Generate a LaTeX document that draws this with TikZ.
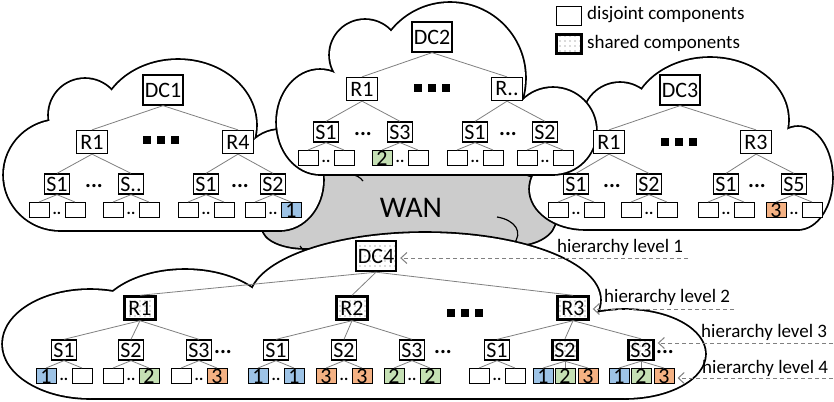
\documentclass[tikz,border=0pt]{standalone}
\usepackage{fontspec}
\setmainfont{Carlito}
\usepackage{tikz}
\usetikzlibrary{arrows.meta,patterns.meta}
\definecolor{cblue}{RGB}{157,195,230}
\definecolor{cgreen}{RGB}{197,224,180}
\definecolor{corange}{RGB}{244,177,131}
\newcommand{\squaredots}{\rule{8pt}{8pt}\hspace{6pt}\rule{8pt}{8pt}\hspace{6pt}\rule{8pt}{8pt}}

\begin{document}
\begin{tikzpicture}[x=1pt,y=-1pt]
    \tikzstyle{box} = [draw,line width=1.3pt,fill=white,inner sep=0pt,font=\fontsize{22}{22}\selectfont]
    \tikzstyle{dcbox} = [box,minimum width=40pt,minimum height=30pt]
    \tikzstyle{rbox} = [box,minimum width=31pt,minimum height=23pt]
    \tikzstyle{sbox} = [box,minimum width=25pt,minimum height=20pt]
    \tikzstyle{shared} = [line width=2.4pt,preaction={fill=white},pattern={Dots[distance=5pt,radius=0.7pt]},pattern color=black!60]
    \tikzstyle{num} = [inner sep=0pt,font=\fontsize{22}{22}\selectfont]
    \tikzstyle{leaf} = [draw,line width=1pt,fill=white,minimum width=20pt,minimum height=15pt,inner sep=0pt]
    \tikzstyle{lw} = [leaf]
    \tikzstyle{lb} = [leaf,fill=cblue,label={[num]center:1}]
    \tikzstyle{lg} = [leaf,fill=cgreen,label={[num]center:2}]
    \tikzstyle{lo} = [leaf,fill=corange,label={[num]center:3}]
    \tikzstyle{link} = [gray,line width=0.8pt]
    \tikzstyle{cloudline} = [line width=3.6pt]
    \tikzstyle{ell} = [anchor=base,inner sep=0pt,font=\fontsize{22}{22}\selectfont\bfseries]
    \tikzstyle{twodots} = [anchor=base,inner sep=0pt,font=\fontsize{16}{16}\selectfont\bfseries]
    \tikzstyle{txt} = [inner sep=0pt,font=\fontsize{19}{19}\selectfont]
    \tikzstyle{levelarrow} = [gray,line width=1pt,dash pattern=on 4pt off 3pt,shorten >=3pt,-{Straight Barb[length=6pt,width=11pt]}]
    \useasboundingbox (0,0) rectangle (834,401);
    % WAN
    \def\shapes{412/205/150/45,305/228/42/20,515/220/40/25}
    \foreach \cx/\cy/\rx/\ry in \shapes
      \draw[cloudline] (\cx,\cy) ellipse ({\rx*1pt} and {\ry*1pt});
    \foreach \cx/\cy/\rx/\ry in \shapes
      \fill[gray!40] (\cx,\cy) ellipse ({\rx*1pt} and {\ry*1pt});
    \draw[line width=1.2pt] (497,217) .. controls (515,220) and (524,232) .. (513,245);
    \draw[line width=1.2pt] (350,174) .. controls (356,175) and (360,177) .. (363,181);
    \draw[line width=1.2pt] (300,246) -- (304,251);
    \node[font=\fontsize{30}{30}\selectfont] (wan) at (411,208) {WAN};
    % cloud of DC1
    \def\shapes{60/175/56/55,85/115/36/36,178/125/78/65,280/180/43/50}
    \foreach \cx/\cy/\rx/\ry in \shapes
      \draw[cloudline] (\cx,\cy) ellipse ({\rx*1pt} and {\ry*1pt});
    \draw[cloudline] (60,150) rectangle (280,230);
    \foreach \cx/\cy/\rx/\ry in \shapes
      \fill[white] (\cx,\cy) ellipse ({\rx*1pt} and {\ry*1pt});
    \fill[white] (60,150) rectangle (280,230);
    % cloud of DC3
    \def\shapes{585/189/55/40,620/120/37/37,710/120/78/62,798/178/34/51}
    \foreach \cx/\cy/\rx/\ry in \shapes
      \draw[cloudline] (\cx,\cy) ellipse ({\rx*1pt} and {\ry*1pt});
    \draw[cloudline] (585,150) rectangle (798,229);
    \foreach \cx/\cy/\rx/\ry in \shapes
      \fill[white] (\cx,\cy) ellipse ({\rx*1pt} and {\ry*1pt});
    \fill[white] (585,150) rectangle (798,229);
    % cloud of DC2
    \def\shapes{320/122/43/52,365/55/35/35,450/78/75/75,553/131/43/43}
    \foreach \cx/\cy/\rx/\ry in \shapes
      \draw[cloudline] (\cx,\cy) ellipse ({\rx*1pt} and {\ry*1pt});
    \draw[cloudline] (320,100) rectangle (553,174);
    \foreach \cx/\cy/\rx/\ry in \shapes
      \fill[white] (\cx,\cy) ellipse ({\rx*1pt} and {\ry*1pt});
    \fill[white] (320,100) rectangle (553,174);
    % cloud of DC4
    \def\shapes{90/344/87/54,185/325/90/55,425/300/175/67,625/354/80/44}
    \foreach \cx/\cy/\rx/\ry in \shapes
      \draw[cloudline] (\cx,\cy) ellipse ({\rx*1pt} and {\ry*1pt});
    \draw[cloudline] (90,320) rectangle (625,398);
    \foreach \cx/\cy/\rx/\ry in \shapes
      \fill[white] (\cx,\cy) ellipse ({\rx*1pt} and {\ry*1pt});
    \fill[white] (90,320) rectangle (625,398);

    % data centers and rows
    \node[dcbox] (dc1) at (163,90) {DC1};
    \node[dcbox] (dc2) at (432,37) {DC2};
    \node[dcbox] (dc3) at (680,90) {DC3};
    \node[dcbox,shared] (dc4) at (376,256) {DC4};
    \node[rbox] (ar1) at (92,142) {R1};
    \node[rbox] (ar4) at (238,142) {R4};
    \node[rbox] (br1) at (362,89) {R1};
    \node[rbox] (brx) at (507,89) {R..};
    \node[rbox] (cr1) at (609,142) {R1};
    \node[rbox] (cr3) at (756,142) {R3};
    \node[rbox,shared] (dr1) at (140,308) {R1};
    \node[rbox,shared] (dr2) at (352,308) {R2};
    \node[rbox,shared] (dr3) at (573,308) {R3};
    \node[inner sep=0pt] (aq) at (161,140) {\squaredots};
    \node[inner sep=0pt] (bq) at (432,88) {\squaredots};
    \node[inner sep=0pt] (cq) at (679,142) {\squaredots};
    \node[inner sep=0pt] (dq) at (465,313) {\squaredots};
    \foreach \a/\b in {dc1/ar1,dc1/ar4,dc2/br1,dc2/brx,dc3/cr1,dc3/cr3,dc4/dr1,dc4/dr2,dc4/dr3}
      \draw[link] (\a.south) -- (\b.north);

    % switches with two servers
    \foreach \n/\x/\y/\t/\p/\la/\lb in {aa/57/184/S1/ar1/lw/lw,ab/131/184/S../ar1/lw/lw,
      ac/206/184/S1/ar4/lw/lw,ad/273/184/S2/ar4/lw/lb,
      ba/326/132/S1/br1/lw/lw,bb/400/132/S3/br1/lg/lw,bc/475/132/S1/brx/lw/lw,bd/545/132/S2/brx/lw/lw,
      ca/576/184/S1/cr1/lw/lw,cb/649/184/S2/cr1/lw/lw,cc/726/184/S1/cr3/lw/lw,cd/794/184/S5/cr3/lo/lw,
      da/64/350/S1/dr1/lb/lw,db/131/350/S2/dr1/lw/lg,dc/199/350/S3/dr1/lw/lo,
      dd/276/350/S1/dr2/lb/lb,de/344/350/S2/dr2/lo/lo,df/412/350/S3/dr2/lg/lg,dg/497/350/S1/dr3/lw/lw}
    {
      \node[sbox] (\n) at (\x,\y) {\t};
      \node[\la] (\n-a) at (\x-18,\y+26) {};
      \node[\lb] (\n-b) at (\x+18,\y+26) {};
      \node[twodots] (\n-d) at (\x,\y+30) {..};
      \draw[link] (\p.south) -- (\n.north);
      \draw[link] (\n.south) -- (\n-a.north);
      \draw[link] (\n.south) -- (\n-b.north);
    }
    % shared switches with three servers
    \foreach \n/\x/\t in {dh/565/S2,di/641/S3}
    {
      \node[sbox,shared] (\n) at (\x,350) {\t};
      \draw[link] (dr3.south) -- (\n.north);
      \foreach \s/\dx in {lb/-22,lg/0,lo/23}
      {
        \node[\s] (\n-\s) at (\x+\dx,376) {};
        \draw[link] (\n.south) -- (\n-\s.north);
      }
    }
    \foreach \n/\x/\y in {e1/94/187,e2/240/187,e3/363/135,e4/508/135,e5/612/187,e6/757/187,e7/223/353,e8/443/353,e9/665/353}
      \node[ell] (\n) at (\x,\y) {...};

    % legend
    \node[leaf,minimum width=25pt,minimum height=19pt] (keyd) at (569,16) {};
    \node[txt,anchor=west] (keydt) at (587,15) {disjoint components};
    \node[leaf,shared,minimum width=25pt,minimum height=19pt] (keys) at (569,44) {};
    \node[txt,anchor=west] (keyst) at (587,43) {shared components};

    % hierarchy levels
    \node[txt,anchor=base west] (lv1) at (557,252) {hierarchy level 1};
    \node[txt,anchor=base west] (lv2) at (604,302) {hierarchy level 2};
    \node[txt,anchor=base west] (lv3) at (701,337) {hierarchy level 3};
    \node[txt,anchor=base west] (lv4) at (702,373) {hierarchy level 4};
    \coordinate (h1) at (688,258);
    \coordinate (h2) at (734,309);
    \coordinate (h3) at (833,343);
    \coordinate (h4) at (833,378);
    \draw[levelarrow] (h1) -- (h1 -| dc4.east);
    \draw[levelarrow] (h2) -- (h2 -| dr3.east);
    \draw[levelarrow] (h3) -- (h3 -| di.east);
    \draw[levelarrow] (h4) -- (h4 -| di-lo.east);
\end{tikzpicture}
\end{document}
